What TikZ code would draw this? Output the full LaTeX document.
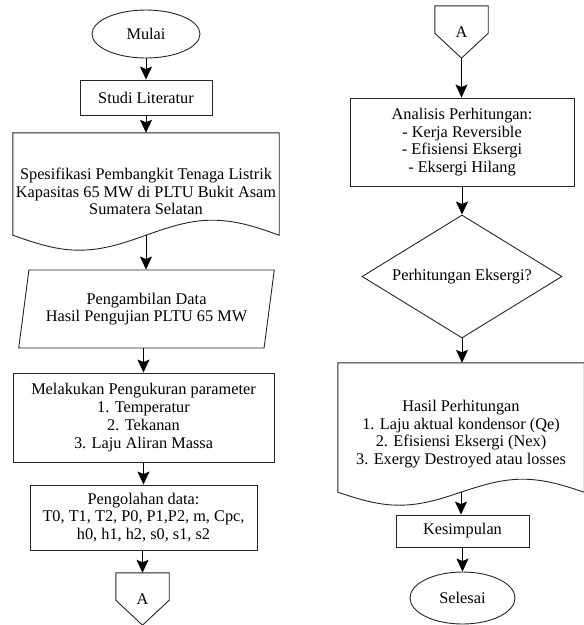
\documentclass[tikz,border=0pt]{standalone}
\usepackage{fontspec}
\setmainfont{Liberation Serif}
\usepackage{tikz}
\usetikzlibrary{shapes.geometric,arrows.meta,positioning,calc}
% border of a document symbol: flat top, wavy bottom of amplitude #2
\newcommand{\docborder}[2]{%
  \draw[bord] (#1.north west) -- ([yshift=#2]#1.south west)
    sin ($(#1.south west)!.25!(#1.south east)$)
    cos ($(#1.south west)!.5!(#1.south east)+(0pt,#2)$)
    sin ($(#1.south west)!.75!(#1.south east)+(0pt,2*#2)$)
    cos ([yshift=#2]#1.south east) -- (#1.north east) -- cycle;}
% border of an off-page connector
\newcommand{\offpageborder}[1]{%
  \draw[bord] (#1.north west) -- (#1.north east) -- ([yshift=25pt]#1.south east)
    -- (#1.south) -- ([yshift=25pt]#1.south west) -- cycle;}

\begin{document}
\begin{tikzpicture}[
  x=1pt, y=-1pt,
  every node/.style={font={\fontsize{16.3pt}{17.8pt}\selectfont}, align=center},
  bord/.style={draw=black!85, line width=0.9pt},
  term/.style={ellipse, bord, inner sep=0pt, minimum width=108pt, minimum height=48pt},
  proc/.style={rectangle, bord, inner sep=2pt},
  io/.style={trapezium, trapezium left angle=75, trapezium right angle=105,
             trapezium stretches=true, bord, inner sep=0pt,
             minimum width=256pt, minimum height=78pt},
  dec/.style={diamond, bord, shape aspect=1.6, inner sep=0pt,
              minimum width=200pt, minimum height=123pt},
  doc/.style={rectangle, draw=none, inner sep=0pt},
  conn/.style={rectangle, draw=none, inner sep=0pt, minimum width=53pt, minimum height=52pt},
  ar/.style={-{Stealth[length=13pt, width=12pt, inset=2.5pt]}, line width=1pt, draw=black}
]
\useasboundingbox (0,0) rectangle (584,625);

% left column
\node[term] (mulai) at (146,34) {Mulai};
\node[proc, minimum width=132pt, minimum height=35pt] (studi) at (146,97.5) {Studi Literatur};
\node[doc, minimum width=266pt, minimum height=117pt] (spek) at (146,191.5)
      {Spesifikasi Pembangkit Tenaga Listrik\\Kapasitas 65 MW di PLTU Bukit Asam\\Sumatera Selatan};
\docborder{spek}{15pt}
\node[io] (ambil) at (146.5,309) {Pengambilan Data\\Hasil Pengujian PLTU 65 MW};
\node[proc, minimum width=261pt, minimum height=89pt] (ukur) at (143.5,417.5)
      {Melakukan Pengukuran parameter\\1. Temperatur\\2. Tekanan\\3. Laju Aliran Massa};
\node[proc, minimum width=227pt, minimum height=65pt] (olah) at (143.5,517.5)
      {Pengolahan data:\\T0, T1, T2, P0, P1,P2, m, Cpc,\\h0, h1, h2, s0, s1, s2};
\node[conn] (kiriA) at (142.5,599) {A};
\offpageborder{kiriA}

% right column
\node[conn] (kananA) at (461.5,32) {A};
\offpageborder{kananA}
\node[proc, minimum width=224pt, minimum height=88pt] (analisis) at (462,142)
      {Analisis Perhitungan:\\- Kerja Reversible\\- Efisiensi Eksergi\\- Eksergi Hilang};
\node[dec] (cek) at (462,276.5) {Perhitungan Eksergi?};
\node[doc, minimum width=246pt, minimum height=142pt] (hasil) at (461,434)
      {Hasil Perhitungan\\1. Laju aktual kondensor (Qe)\\2. Efisiensi Eksergi (Nex)\\3. Exergy Destroyed atau losses};
\docborder{hasil}{13pt}
\node[proc, minimum width=133pt, minimum height=32pt] (simpul) at (462.5,531) {Kesimpulan};
\node[term, minimum width=105pt, minimum height=52pt] (selesai) at (462.5,598) {Selesai};

\draw[ar] (mulai) -- (studi);
\draw[ar] (studi) -- (spek);
\draw[ar] ([yshift=15pt]spek.south) -- (spek.south |- ambil.north);
\draw[ar] (ambil.south -| ukur) -- (ukur);
\draw[ar] (ukur) -- (olah);
\draw[ar] (olah.south -| kiriA) -- (kiriA);
\draw[ar] (kananA.south) -- (kananA.south |- analisis.north);
\draw[ar] (analisis) -- (cek);
\draw[ar] (cek.south) -- (cek.south |- hasil.north);
\draw[ar] ([yshift=13pt]hasil.south) -- (hasil.south |- simpul.north);
\draw[ar] (simpul) -- (selesai);
\end{tikzpicture}
\end{document}
